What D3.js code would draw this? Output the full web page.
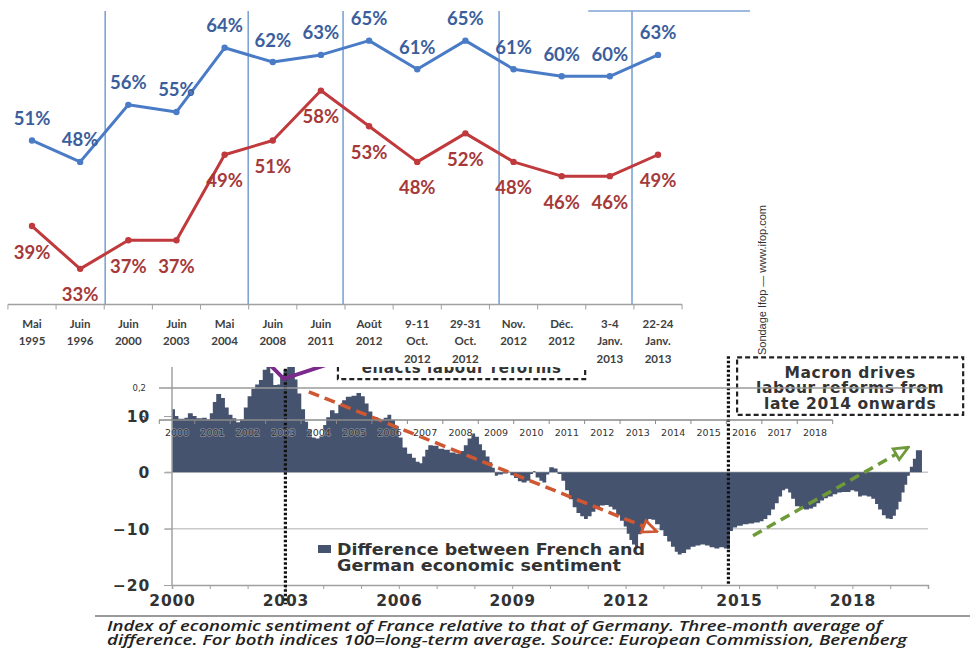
<!DOCTYPE html>
<html><head><meta charset="utf-8">
<script src="https://cdn.jsdelivr.net/npm/d3@7"></script>
<style>html,body{margin:0;padding:0;background:#fff;} svg{display:block;}</style>
</head><body><svg id="c" width="970" height="648"></svg>
<script>
// ---------- Upper chart: Ifop poll ----------
const pollCats = [["Mai","1995"],["Juin","1996"],["Juin","2000"],["Juin","2003"],["Mai","2004"],["Juin","2008"],["Juin","2011"],["Août","2012"],["9-11","Oct.","2012"],["29-31","Oct.","2012"],["Nov.","2012"],["Déc.","2012"],["3-4","Janv.","2013"],["22-24","Janv.","2013"]];
const pollBlue = [51,48,56,55,64,62,63,65,61,65,61,60,60,63];
const pollRed  = [39,33,37,37,49,51,58,53,48,52,48,46,46,49];
const pollSeparators = [1.52, 4.49, 6.46, 9.7, 12.46]; // category-index units
const pollTopRule = [11.55, 14.91];
const sourceNote = "Sondage Ifop — www.ifop.com";

// ---------- Lower chart: sentiment difference ----------
const sentYears = [2000.00,2000.08,2000.17,2000.33,2000.42,2000.55,2000.65,2000.8,2000.92,2001.0,2001.08,2001.17,2001.3,2001.4,2001.5,2001.6,2001.7,2001.8,2001.9,
2002.0,2002.1,2002.2,2002.3,2002.4,2002.5,2002.6,2002.68,2002.78,2002.86,2002.95,2003.05,2003.15,2003.25,2003.32,2003.42,2003.52,2003.6,2003.7,2003.8,2003.9,
2004.0,2004.08,2004.18,2004.3,2004.4,2004.5,2004.6,2004.75,2004.88,2005.0,2005.1,2005.2,2005.3,2005.45,2005.6,2005.7,2005.8,2005.9,
2006.0,2006.1,2006.22,2006.35,2006.45,2006.55,2006.62,2006.7,2006.78,2006.9,2007.05,2007.2,2007.35,2007.5,2007.62,2007.72,2007.82,2007.92,
2008.02,2008.12,2008.2,2008.3,2008.4,2008.47,2008.54,2008.62,2008.75,2008.88,2008.95,2009.05,2009.15,2009.25,2009.38,2009.48,2009.55,2009.62,2009.72,2009.8,2009.9,2009.98,
2010.1,2010.2,2010.3,2010.4,2010.5,2010.6,2010.7,2010.8,2010.9,2011.0,2011.1,2011.2,2011.32,2011.45,2011.55,2011.65,2011.75,2011.85,2011.95,
2012.03,2012.1,2012.17,2012.25,2012.33,2012.42,2012.5,2012.6,2012.68,2012.78,2012.9,2013.0,2013.1,2013.2,2013.3,2013.38,2013.48,2013.6,2013.72,2013.85,2013.98,
2014.1,2014.22,2014.35,2014.48,2014.6,2014.68,2014.76,2014.84,2014.95,2015.1,2015.25,2015.4,2015.55,2015.65,2015.75,2015.85,2015.95,
2016.05,2016.14,2016.22,2016.3,2016.38,2016.48,2016.6,2016.72,2016.85,2016.96,2017.05,2017.15,2017.25,2017.35,2017.48,2017.6,2017.72,2017.85,2017.95,
2018.05,2018.15,2018.25,2018.38,2018.5,2018.6,2018.68,2018.78,2018.88,2018.98,2019.07,2019.15,2019.22,2019.3,2019.38,2019.45,2019.52,2019.6,2019.68,2019.84];
const sentValues = [11.2,10.0,9.5,9.7,10.5,10.0,9.6,9.7,9.4,10.5,12.5,13.9,13.2,11.5,10.2,9.6,8.9,9.4,11.5,
13.5,14.8,15.6,16.4,18.2,19.5,17.6,15.5,15.6,17.3,18.2,19.3,19.0,16.5,14.0,11.2,9.0,7.6,6.2,6.0,6.4,
8.4,9.8,11.0,10.5,12.0,12.8,13.4,13.6,14.1,13.5,12.2,10.8,9.8,9.3,9.7,10.2,9.3,8.2,
6.2,4.4,3.3,2.6,1.9,1.6,2.8,4.0,4.8,4.7,4.2,4.0,3.5,3.3,3.8,4.8,6.0,6.9,
6.3,5.0,3.9,2.8,1.8,0.8,-0.6,-0.4,-0.2,0.1,-0.5,-1.0,-1.6,-1.8,-1.5,-0.3,0.2,-0.9,-1.5,-1.8,-0.4,0.9,
0.7,-0.3,-1.5,-3.2,-4.8,-6.2,-7.2,-7.8,-8.3,-7.8,-7.0,-6.4,-5.9,-5.8,-6.1,-6.6,-7.6,-8.6,-9.6,
-10.9,-12.0,-12.8,-13.2,-11.0,-9.8,-9.0,-8.3,-8.4,-9.2,-10.3,-11.3,-12.3,-13.2,-14.1,-14.6,-14.3,-13.7,-13.2,-13.0,-12.8,
-13.0,-13.3,-13.5,-13.3,-13.5,-13.6,-10.4,-9.8,-9.5,-9.2,-9.1,-8.9,-8.7,-8.3,-7.6,-6.6,-5.5,
-4.3,-3.2,-2.9,-3.6,-4.7,-6.0,-6.5,-6.6,-6.4,-6.1,-5.5,-5.0,-4.6,-4.3,-3.9,-3.6,-3.5,-3.5,-3.2,
-3.4,-4.3,-4.1,-4.3,-4.7,-5.6,-6.6,-7.6,-8.2,-8.3,-7.7,-6.6,-5.2,-3.6,-2.2,-0.6,1.0,2.4,3.9,3.9];
const sentXTicks = [2000,2003,2006,2009,2012,2015,2018];
const sentYTicks = [10,0,-10,-20];
const legendLines = ["Difference between French and","German economic sentiment"];
const captionLines = ["Index of economic sentiment of France relative to that of Germany. Three-month average of",
                      "difference. For both indices 100=long-term average. Source: European Commission, Berenberg"];
// annotations (data units)
const reformLines = [{year:2003.0, top:20, bottom:-23.4},{year:2014.72, top:20.6, bottom:-20}];
const redArrow = [[2003.62,14.3],[2012.78,-10.4]];
const greenArrow = [[2015.37,-11.25],[2019.44,4.3]];
const purpleMark = [[2002.38,20.5],[2002.96,16.6],[2004.58,20.2]];
const schroderBox = {x0:2004.39, x1:2010.93, top:24, bottom:16.56, lines:["Germany's Schröder","enacts labour reforms"]};
const macronBox = {x0:2014.95, x1:2020.93, top:20.4, bottom:10.2, lines:["Macron drives","labour reforms from","late 2014 onwards"]};
// overlaid inset axis
const insetYears = [2000,2001,2002,2003,2004,2005,2006,2007,2008,2009,2010,2011,2012,2013,2014,2015,2016,2017,2018];
const insetTicks = [0,0.2];

const svg = d3.select("#c");
const BOLD = "'DejaVu Sans', Verdana, sans-serif";

// ===== Lower chart =====
const lo = svg.append("g");
const xS = d3.scaleLinear().domain([2000,2020]).range([172,928]);
const yS = d3.scaleLinear().domain([-20,10]).range([585,416]);
const sent = sentYears.map((y,i)=>[y, sentValues[i]]);

// gridlines
lo.selectAll("line.grid").data([0,-10]).join("line")
  .attr("x1",165).attr("x2",xS(2020)).attr("y1",d=>yS(d)).attr("y2",d=>yS(d))
  .attr("stroke","#c8c8c8").attr("stroke-width",1.5);

// area
lo.append("path").datum(sent)
  .attr("fill","#46536f")
  .attr("d", d3.area().x(d=>xS(d[0])).y0(yS(0)).y1(d=>yS(d[1])).curve(d3.curveStepAfter));

// x axis
const xAx = lo.append("g").attr("transform",`translate(0,${yS(-20)})`)
  .call(d3.axisBottom(xS).tickValues(d3.range(2000,2021)).tickSize(4).tickPadding(6)
    .tickFormat(d=>sentXTicks.includes(d)?String(d):""));
xAx.select(".domain").attr("stroke","#a0a0a0").attr("stroke-width",1.5);
xAx.selectAll(".tick line").attr("stroke","#a0a0a0");
xAx.selectAll("text").attr("font-family",BOLD).attr("font-weight","bold").attr("font-size",15.5)
  .attr("letter-spacing",0.8).attr("fill","#333");

// y axis
const yAx = lo.append("g").attr("transform",`translate(${xS(2000)},0)`)
  .call(d3.axisLeft(yS).tickValues(sentYTicks).tickSize(8).tickPadding(14).tickFormat(d3.format("d")));
yAx.select(".domain").remove();
yAx.append("line").attr("x1",0).attr("x2",0).attr("y1",yS(-20)).attr("y2",yS(20)).attr("stroke","#a0a0a0").attr("stroke-width",1.5);
yAx.selectAll(".tick line").attr("stroke","#a0a0a0");
yAx.selectAll("text").attr("font-family",BOLD).attr("font-weight","bold").attr("font-size",15.5)
  .attr("letter-spacing",0.8).attr("fill","#333").attr("dy","0.35em");

// legend
lo.append("rect").attr("x",318).attr("y",545).attr("width",13).attr("height",8).attr("fill","#46536f");
lo.selectAll("text.leg").data(legendLines).join("text")
  .attr("x",337).attr("y",(d,i)=>554.5+i*16.5)
  .attr("font-family",BOLD).attr("font-weight","bold").attr("font-size",16).attr("fill","#333")
  .attr("textLength",(d,i)=>i?284:308).attr("lengthAdjust","spacingAndGlyphs").text(d=>d);

// reform dotted lines
lo.selectAll("line.ref").data(reformLines).join("line")
  .attr("x1",d=>xS(d.year)).attr("x2",d=>xS(d.year)).attr("y1",d=>yS(d.top)).attr("y2",d=>yS(d.bottom))
  .attr("stroke","#111").attr("stroke-width",3.2).attr("stroke-dasharray","2.5,2");

// arrows
const defs = svg.append("defs");
function marker(id,color){
  defs.append("marker").attr("id",id).attr("viewBox","0 0 10 10").attr("refX",8).attr("refY",5)
    .attr("markerWidth",5).attr("markerHeight",5).attr("orient","auto").attr("markerUnits","strokeWidth")
    .append("path").attr("d","M1,1.5 L9,5 L1,8.5 Z").attr("fill","#fff").attr("stroke",color).attr("stroke-width",1.6).attr("stroke-linejoin","miter");
}
marker("mRed","#cf5732"); marker("mGreen","#6f9a3a");
lo.append("line").attr("x1",xS(redArrow[0][0])).attr("y1",yS(redArrow[0][1])).attr("x2",xS(redArrow[1][0])).attr("y2",yS(redArrow[1][1]))
  .attr("stroke","#cf5732").attr("stroke-width",3.5).attr("stroke-dasharray","11,6").attr("marker-end","url(#mRed)");
lo.append("line").attr("x1",xS(greenArrow[0][0])).attr("y1",yS(greenArrow[0][1])).attr("x2",xS(greenArrow[1][0])).attr("y2",yS(greenArrow[1][1]))
  .attr("stroke","#6f9a3a").attr("stroke-width",3.5).attr("stroke-dasharray","10,6").attr("marker-end","url(#mGreen)");
lo.append("path").datum(purpleMark).attr("d",d3.line().x(d=>xS(d[0])).y(d=>yS(d[1])))
  .attr("fill","none").attr("stroke","#7b2a8c").attr("stroke-width",4);

// annotation boxes
function box(b, lineH, firstBaseline, fs){
  const g = lo.append("g");
  g.append("rect").attr("x",xS(b.x0)).attr("y",yS(b.top)).attr("width",xS(b.x1)-xS(b.x0)).attr("height",yS(b.bottom)-yS(b.top))
    .attr("fill","none").attr("stroke","#222").attr("stroke-width",2.2).attr("stroke-dasharray","5,3");
  g.selectAll("text").data(b.lines).join("text")
    .attr("x",(xS(b.x0)+xS(b.x1))/2).attr("y",(d,i)=>firstBaseline+i*lineH).attr("text-anchor","middle")
    .attr("font-family",BOLD).attr("font-weight","bold").attr("font-size",fs).attr("letter-spacing",0.6).attr("fill","#333").text(d=>d);
}
box(schroderBox, 16, 357, 15);
box(macronBox, 15.8, 377.5, 15.5);

// inset overlay (another axis drawn on top)
const insX = d3.scaleBand().domain(insetYears).range([159.3,832.7]);
const insY = d3.scaleLinear().domain([0,0.2]).range([420,388]);
const ov = svg.append("g");
ov.append("line").attr("x1",159).attr("x2",928).attr("y1",insY(0.2)).attr("y2",insY(0.2)).attr("stroke","#9a9a9a").attr("stroke-width",1.3);
ov.append("line").attr("x1",159).attr("x2",insX.range()[1]).attr("y1",insY(0)).attr("y2",insY(0)).attr("stroke","#8a8a8a").attr("stroke-width",1.6);
ov.selectAll("line.it").data(insetYears.concat([2019])).join("line")
  .attr("x1",(d,i)=>159.3+i*insX.bandwidth()).attr("x2",(d,i)=>159.3+i*insX.bandwidth())
  .attr("y1",insY(0)).attr("y2",insY(0)+4).attr("stroke","#8a8a8a");
ov.selectAll("text.iy").data(insetYears).join("text")
  .attr("x",d=>insX(d)+insX.bandwidth()/2).attr("y",insY(0)+16).attr("text-anchor","middle")
  .attr("font-family",BOLD).attr("font-size",9.5).attr("fill","#333")
  .attr("stroke","#fff").attr("stroke-opacity",0.35).attr("stroke-width",1.5).attr("paint-order","stroke")
  .text(d=>d);
ov.selectAll("text.iv").data(insetTicks).join("text")
  .attr("x",146).attr("y",d=>insY(d)+3).attr("text-anchor","end")
  .attr("font-family",BOLD).attr("font-size",8.5).attr("fill","#333")
  .text(d=>d===0?"0":String(d).replace(".",","));

// caption
svg.append("line").attr("x1",95).attr("x2",970).attr("y1",616).attr("y2",616).attr("stroke","#9a9a9a").attr("stroke-width",2);
svg.selectAll("text.cap").data(captionLines).join("text")
  .attr("x",107).attr("y",(d,i)=>631+i*14).attr("font-family","'Open Sans', sans-serif").attr("font-style","italic")
  .attr("font-weight",600).attr("font-size",14).attr("fill","#222")
  .attr("textLength",(d,i)=>i?800:775).attr("lengthAdjust","spacingAndGlyphs").text(d=>d);

// ===== Upper chart (image pasted over lower chart) =====
const up = svg.append("g");
up.append("rect").attr("x",0).attr("y",0).attr("width",705).attr("height",367).attr("fill","#fff");
const ux = d3.scaleLinear().domain([0,13]).range([32,658]);
const uy = d3.scaleLinear().domain([28,69.3]).range([304.5,10]);
const SEP = "#7ea3d6";
up.selectAll("line.sep").data(pollSeparators).join("line")
  .attr("x1",d=>ux(d)).attr("x2",d=>ux(d)).attr("y1",11).attr("y2",uy(28))
  .attr("stroke",SEP).attr("stroke-width",1.6);
up.append("line").attr("x1",ux(pollTopRule[0])).attr("x2",ux(pollTopRule[1])).attr("y1",11).attr("y2",11)
  .attr("stroke",SEP).attr("stroke-width",1.6);
// axis
up.append("line").attr("x1",ux(-0.5)).attr("x2",ux(13.5)).attr("y1",uy(28)).attr("y2",uy(28)).attr("stroke","#a0a0a0").attr("stroke-width",1.5);
up.selectAll("line.ut").data(d3.range(15)).join("line")
  .attr("x1",d=>ux(d-0.5)).attr("x2",d=>ux(d-0.5)).attr("y1",uy(28)).attr("y2",uy(28)+5).attr("stroke","#a0a0a0");
up.selectAll("g.cl").data(pollCats).join("g").each(function(d,i){
  d3.select(this).selectAll("text").data(d).join("text")
    .attr("x",ux(i)).attr("y",(t,j)=>327.5+j*17.5).attr("text-anchor","middle")
    .attr("font-family","Lato, sans-serif").attr("font-weight","bold").attr("font-size",11.5).attr("fill","#404040")
    .text(t=>t);
});
function series(vals, lineCol, txtCol, above){
  up.append("path").datum(vals).attr("fill","none").attr("stroke",lineCol).attr("stroke-width",3)
    .attr("stroke-linejoin","round").attr("d",d3.line().x((d,i)=>ux(i)).y(d=>uy(d)));
  up.selectAll(null).data(vals).join("circle").attr("cx",(d,i)=>ux(i)).attr("cy",d=>uy(d)).attr("r",3.2).attr("fill",lineCol);
  up.selectAll(null).data(vals).join("text")
    .attr("x",(d,i)=>ux(i)).attr("y",d=>uy(d)+(above?-15.5:32.5)).attr("text-anchor","middle")
    .attr("font-family","Lato, sans-serif").attr("font-weight","bold").attr("font-size",18.5).attr("fill",txtCol)
    .text(d=>d+"%");
}
series(pollRed, "#c0393c", "#a5393a", false);
series(pollBlue, "#4a7bc6", "#3b5e9d", true);

// rotated source note
svg.append("text").attr("transform","translate(766,280) rotate(-90)").attr("text-anchor","middle")
  .attr("font-family","'Liberation Sans', sans-serif").attr("font-size",10).attr("fill","#333")
  .attr("textLength",150).attr("lengthAdjust","spacingAndGlyphs").text(sourceNote);
</script></body></html>
